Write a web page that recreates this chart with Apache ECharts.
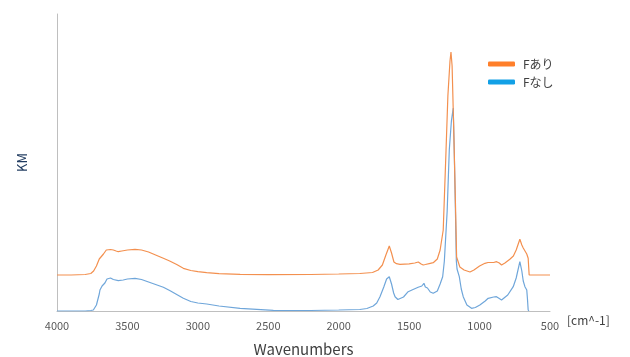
<!DOCTYPE html>
<html>
<head>
<meta charset="utf-8">
<script src="https://cdn.jsdelivr.net/npm/echarts@6/dist/echarts.min.js"></script>
<style>html,body{margin:0;padding:0;background:#fff}#c{width:630px;height:357px}</style>
</head>
<body>
<div id="c"></div>
<script>
var seriesNames = ['Fあり', 'Fなし'];
var xTicks = [4000, 3500, 3000, 2500, 2000, 1500, 1000, 500];
var xAxisName = 'Wavenumbers';
var yAxisName = 'KM';
var unitLabel = '[cm^-1]';

// [wavenumber, KM (arbitrary units)]
var fAri = [
[4000,36],[3900,36],[3800,36.5],[3760,37.5],[3740,40],[3720,45],[3700,52],[3690,54],[3670,57],[3650,61],
[3636,62],[3620,61.5],[3600,61],[3580,60],[3565,59.3],[3540,60],[3500,61],[3446,61.7],[3400,61],[3350,59],
[3300,56],[3245,52.7],[3200,50],[3150,46.5],[3103,42.7],[3050,40.5],[3000,39.3],[2937,38.3],[2850,37.3],
[2700,36.7],[2500,36.3],[2200,36.5],[2000,37],[1850,37.5],[1760,38.5],[1720,41],[1690,46],[1665,56],
[1641,65],[1625,58],[1608,49],[1590,47.3],[1565,46.7],[1500,47.2],[1460,48],[1435,49],[1415,47],[1400,46],
[1385,46.5],[1350,47.7],[1329,48.3],[1300,52],[1280,61],[1258,81],[1238,161],[1225,215],[1210,250],
[1203,259],[1195,245],[1185,190],[1180,161],[1170,100],[1163,54],[1140,44],[1110,41],[1068,39],[1040,41],
[1000,45],[962,47.7],[940,48.5],[927,48.7],[900,48.5],[879,49.3],[860,48],[844,46],[820,48],[785,51.7],
[760,55],[740,61],[714,71.7],[700,66],[690,63],[678,61],[665,57],[655,52.7],[650,51],[648,36],[600,36],[500,36]
];
var fNashi = [
[4000,0],[3800,0],[3760,0.5],[3742,1],[3720,6],[3700,17],[3695,21],[3680,25],[3660,28],[3645,32],
[3636,33.3],[3620,33],[3600,31.5],[3565,30.3],[3530,31],[3500,32],[3446,32.7],[3400,31.5],[3350,29],
[3300,26.5],[3245,23.7],[3200,20.5],[3150,16.5],[3103,12.7],[3050,9.5],[3000,8],[2937,7],[2850,5],
[2700,2.7],[2464,0.7],[2200,0.5],[2000,1],[1850,1.5],[1800,2.5],[1755,5],[1730,8],[1707,14.3],[1680,24],
[1660,32],[1641,34.3],[1625,27],[1610,18],[1600,14.3],[1580,11.5],[1566,11],[1540,14],[1507,19.3],
[1480,21],[1436,23.7],[1410,25],[1395,27.7],[1385,24],[1380,22],[1370,23],[1350,19],[1329,17.7],[1300,20],
[1280,27],[1262,34.3],[1250,50],[1230,100],[1215,161],[1200,190],[1187,203],[1180,161],[1170,90],
[1165,50],[1160,42],[1144,34.3],[1130,22],[1116,14.3],[1090,6],[1057,2.7],[1030,3.5],[998,6],[960,10],
[939,12.7],[900,14],[880,14.3],[860,12.5],[844,11],[800,16],[761,24.3],[740,33],[714,49.3],[700,40],
[690,30],[678,24.3],[672,25],[665,21],[660,12],[655,1],[650,0]
];

var font = '"Noto Sans CJK JP","Noto Sans",sans-serif';
var chart = echarts.init(document.getElementById('c'), null, {renderer: 'canvas'});
chart.setOption({
  animation: false,
  textStyle: {fontFamily: font},
  grid: {left: 57, right: 80, top: 14, bottom: 46, containLabel: false, outerBoundsMode: 'none'},
  legend: {
    orient: 'vertical', left: 483, top: 52,
    icon: 'roundRect', itemWidth: 27, itemHeight: 5, itemGap: 4,
    textStyle: {fontSize: 12, color: '#404040', fontFamily: font, lineHeight: 14, padding: [0,0,0,3]},
    data: seriesNames
  },
  xAxis: {
    type: 'value', inverse: true, min: 500, max: 4000, interval: 500,
    name: xAxisName, nameLocation: 'middle', nameGap: 31,
    nameTextStyle: {fontSize: 15, color: '#404040', fontFamily: font},
    axisLine: {show: true, lineStyle: {color: '#bfbfbf', width: 1}},
    axisTick: {show: false},
    splitLine: {show: false},
    axisLabel: {fontSize: 11, color: '#595959', margin: 9, fontFamily: font,
      formatter: function (v) { return xTicks.indexOf(v) >= 0 ? String(v) : ''; }}
  },
  yAxis: {
    type: 'value', min: 0, max: 297,
    name: yAxisName, nameLocation: 'middle', nameGap: 28,
    nameTextStyle: {fontSize: 13, color: '#1f3a5f', fontFamily: font},
    axisLine: {show: true, lineStyle: {color: '#bfbfbf', width: 1}},
    axisTick: {show: false}, axisLabel: {show: false}, splitLine: {show: false}
  },
  graphic: [{
    type: 'text', left: 567, top: 314,
    style: {text: unitLabel, fontSize: 12, fill: '#404040', fontFamily: font}
  }],
  series: [
    {name: seriesNames[0], type: 'line', data: fAri, showSymbol: false, symbol: 'none',
     itemStyle: {color: '#ff7f2a'}, lineStyle: {color: '#f3904f', width: 1.2}, z: 3},
    {name: seriesNames[1], type: 'line', data: fNashi, showSymbol: false, symbol: 'none',
     itemStyle: {color: '#12a0e6'}, lineStyle: {color: '#6fa6da', width: 1.2}, z: 2}
  ]
});
</script>
</body>
</html>
